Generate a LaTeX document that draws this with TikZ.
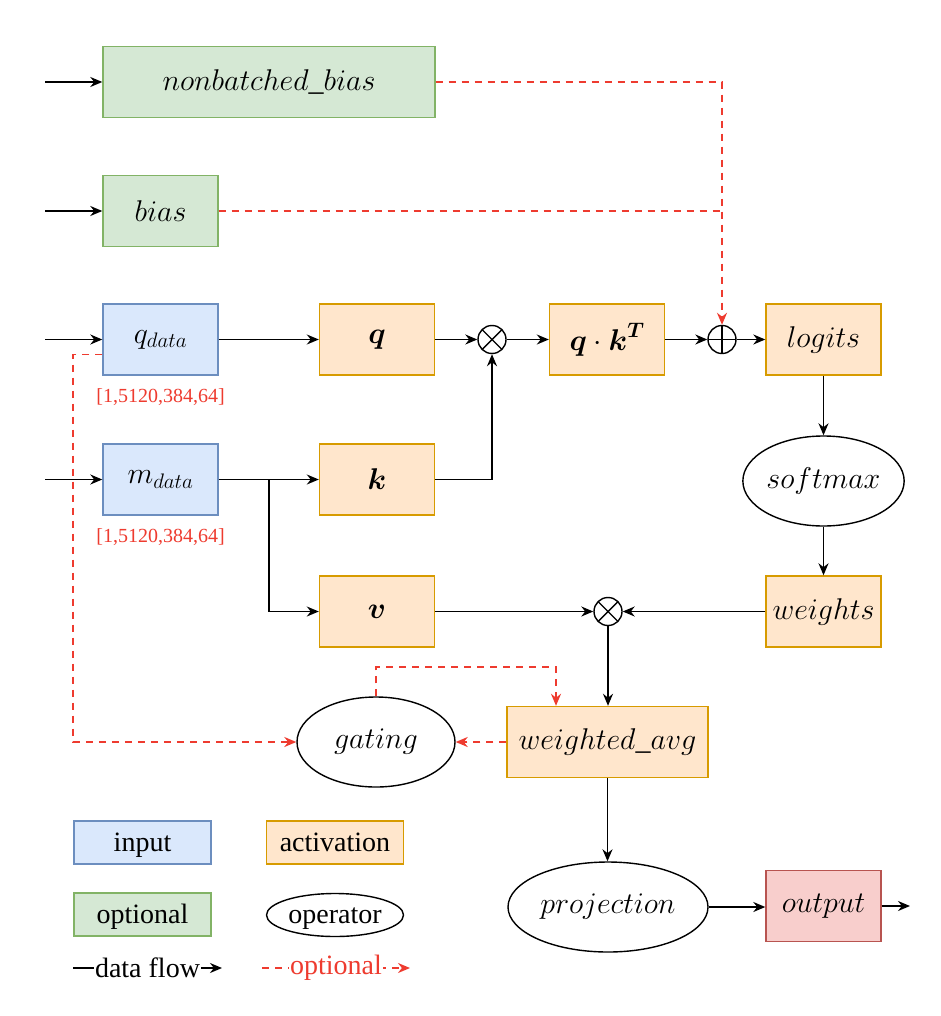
\RequirePackage{fix-cm}
\documentclass[tikz,border=0pt]{standalone}
\usepackage{fontspec}
\setmainfont{Liberation Serif}
\usepackage{amsmath}
\usepackage{tikz}
\usetikzlibrary{positioning}
\usetikzlibrary{shapes.geometric}
\usetikzlibrary{arrows.meta}
\usetikzlibrary{calc}
\definecolor{in-fill}{HTML}{DAE8FC}
\definecolor{in-line}{HTML}{6C8EBF}
\definecolor{act-fill}{HTML}{FFE6CC}
\definecolor{act-line}{HTML}{D79B00}
\definecolor{opt-fill}{HTML}{D5E8D4}
\definecolor{opt-line}{HTML}{82B366}
\definecolor{out-fill}{HTML}{F8CECC}
\definecolor{out-line}{HTML}{B85450}
\definecolor{opt-red}{HTML}{EE3B2F}
\newcommand{\diagfont}{\fontsize{28}{34}\selectfont}
\newcommand{\blockfont}{\fontsize{30}{36}\selectfont}
\tikzset{
  block/.style={rectangle, draw=#1-line, fill=#1-fill, line width=1.4pt,
    inner sep=0pt, minimum width=115pt, minimum height=71pt, font=\blockfont},
  op/.style={ellipse, draw, line width=1.4pt, inner sep=0pt,
    minimum width=160pt, minimum height=90pt, font=\blockfont},
  times-op/.style={circle, draw, line width=1.4pt, minimum size=28pt, inner sep=0pt,
    path picture={\draw[line width=1.4pt]
      (path picture bounding box.north west) -- (path picture bounding box.south east)
      (path picture bounding box.south west) -- (path picture bounding box.north east);}},
  plus-op/.style={circle, draw, line width=1.4pt, minimum size=28pt, inner sep=0pt,
    path picture={\draw[line width=1.4pt]
      (path picture bounding box.north) -- (path picture bounding box.south)
      (path picture bounding box.west) -- (path picture bounding box.east);}},
  flow/.style={line width=1.6pt, -{Stealth[length=12pt,width=10pt]}},
  opt-line/.style={line width=1.8pt, draw=opt-red, dash pattern=on 7pt off 6pt},
  opt-flow/.style={opt-line, -{Stealth[length=12pt,width=10pt]}},
  dims/.style={text=opt-red, inner sep=2pt, font=\fontsize{20}{24}\selectfont},
  legend/.style={minimum width=137pt, minimum height=43pt, font=\diagfont,
    text height=22pt, text depth=5pt},
}

\begin{document}
\begin{tikzpicture}[x=1pt, y=-1pt]
\useasboundingbox (0,0) rectangle (940,1016);
% inputs
\node[block=opt, minimum width=332pt] (nbias) at (269,82) {$nonbatched\_bias$};
\node[block=opt] (bias) at (160.5,211) {$bias$};
\node[block=in] (qdata) at (160.5,339.5) {$q_{data}$};
\node[block=in] (mdata) at (160.5,479.5) {$m_{data}$};
\node[dims, below=11pt of qdata] (qdim) {[1,5120,384,64]};
\node[dims, below=11pt of mdata] (mdim) {[1,5120,384,64]};
\foreach \n/\y in {nbias/82, bias/211, qdata/339.5, mdata/479.5} {
  \coordinate (in-\n) at (45,\y);
  \draw[flow] (in-\n) -- (\n.west);
}
% activations and operators
\node[block=act] (q) at (377,339.5) {$\boldsymbol{q}$};
\node[block=act] (k) at (377,479.5) {$\boldsymbol{k}$};
\node[block=act] (v) at (377,611.5) {$\boldsymbol{v}$};
\node[times-op] (mul1) at (492,339.5) {};
\node[block=act] (qk) at (607,339.5) {$\boldsymbol{q}\cdot\boldsymbol{k}^{\boldsymbol{T}}$};
\node[plus-op] (add) at (722,339.5) {};
\node[block=act] (logits) at (823.5,339.5) {$logits$};
\node[op] (softmax) at (823.5,481) {$softmax$};
\node[block=act] (weights) at (823.5,611.5) {$weights$};
\node[times-op] (mul2) at (608,611.5) {};
\node[block=act, minimum width=201pt] (wavg) at (607.5,742) {$weighted\_avg$};
\node[op, minimum width=158pt] (gating) at (376,742) {$gating$};
\node[op, minimum width=200pt] (proj) at (608,907) {$projection$};
\node[block=out] (output) at (823.5,906) {$output$};
% data flow
\draw[flow] (qdata) -- (q);
\draw[flow] (q) -- (mul1);
\draw[flow] (mul1) -- (qk);
\draw[flow] (qk) -- (add);
\draw[flow] (add) -- (logits);
\draw[flow] (mdata) -- (k);
\draw[flow] (k.east) -| (mul1.south);
\coordinate (split) at ($(mdata.east)!0.5!(k.west)$);
\draw[flow] (split) |- (v.west);
\draw[flow] (logits) -- (softmax);
\draw[flow] (softmax) -- (weights);
\draw[flow] (weights) -- (mul2);
\draw[flow] (v) -- (mul2);
\draw[flow] (mul2.south) -- (mul2.south |- wavg.north);
\draw[flow] (wavg.south) -- (wavg.south |- proj.north);
\draw[flow] (proj.east) -- (proj.east -| output.west);
\coordinate (out-end) at (910,906);
\draw[flow] (output.east) -- (out-end);
% optional flow
\draw[opt-flow] (nbias.east) -| (add.north);
\draw[opt-line] (bias.east) -- (bias.east -| add.north);
\draw[opt-flow] (wavg.west) -- (gating.east);
\draw[opt-flow] (gating.north) -- ++(0,-29) -| ([xshift=-51.5pt]wavg.north);
\draw[opt-flow] ([yshift=-15pt]qdata.west) -- ++(-29,0) |- (gating.west);
% legend
\node[block=in, legend] (lg-in) at (142.5,842.5) {input};
\node[block=act, legend] (lg-act) at (335,842.5) {activation};
\node[block=opt, legend] (lg-opt) at (142.5,914.5) {optional};
\node[op, legend] (lg-op) at (335,915) {operator};
\coordinate (lg-flow-a) at (73,968);
\coordinate (lg-flow-b) at (222,968);
\draw[flow] (lg-flow-a) -- (lg-flow-b) node[midway, fill=white, inner sep=1pt, font=\diagfont] {data flow};
\coordinate (lg-opt-a) at (262,968);
\coordinate (lg-opt-b) at (410,968);
\draw[opt-flow] (lg-opt-a) -- (lg-opt-b) node[midway, fill=white, inner sep=1pt, text=opt-red, font=\diagfont] {optional};
\end{tikzpicture}
\end{document}
